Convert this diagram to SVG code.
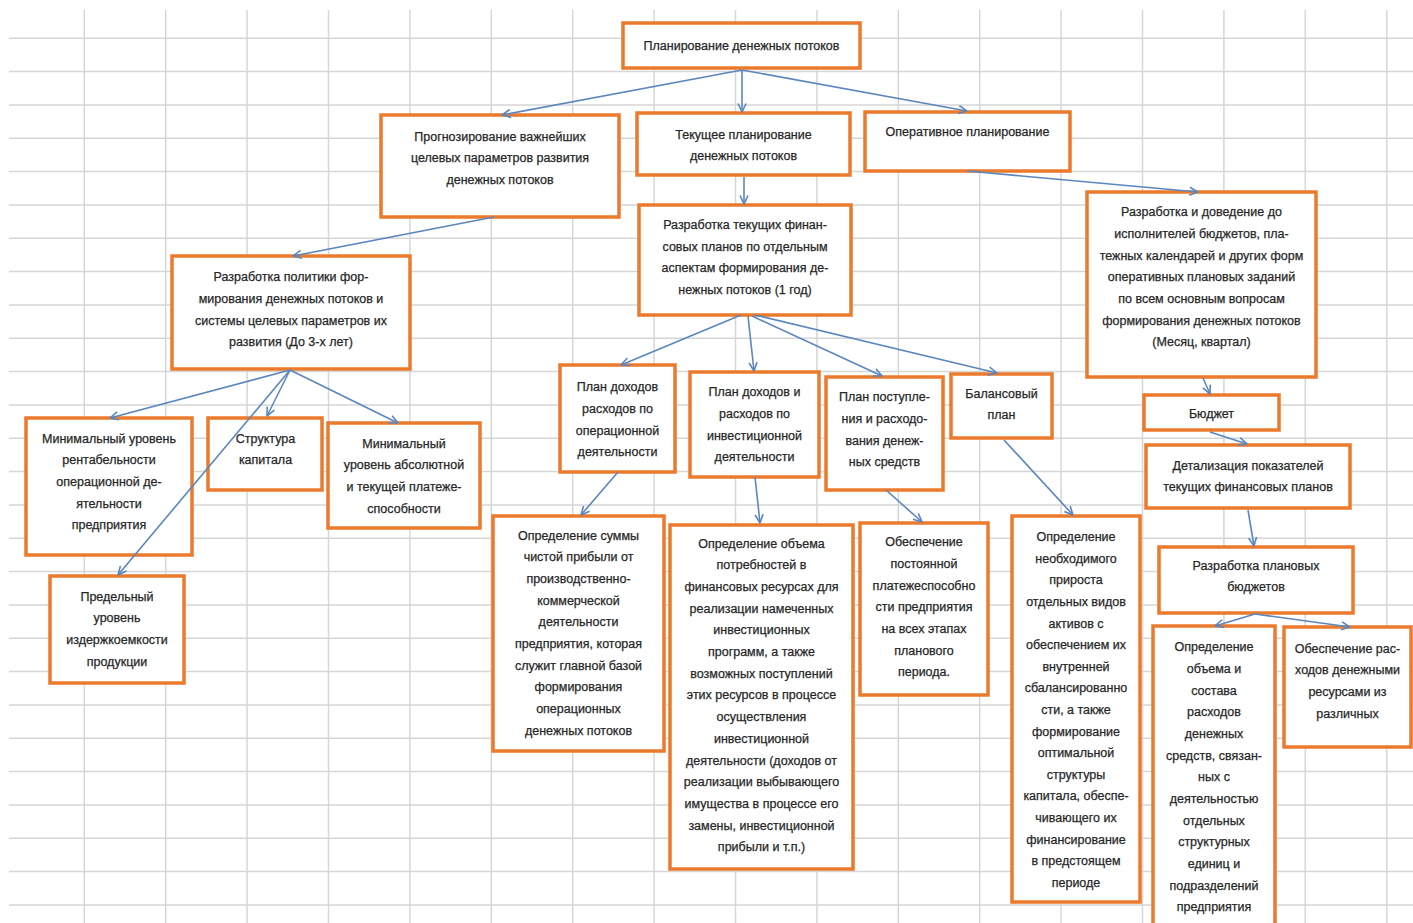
<svg xmlns="http://www.w3.org/2000/svg" width="1413" height="923" viewBox="0 0 1413 923">
<style>
.grid{stroke:#d6d6d6;stroke-width:1.5;fill:none}
.box{fill:#ffffff;stroke:#ec7a2c;stroke-width:3.5}
.t{font-family:"Liberation Sans",Arial,sans-serif;font-size:12.5px;fill:#262626;stroke:#262626;stroke-width:0.25;text-anchor:middle}
.c{stroke:#5b86be;stroke-width:1.6;fill:none;marker-end:url(#arr)}
</style>
<defs>
<marker id="arr" markerUnits="userSpaceOnUse" viewBox="0 0 10 10" refX="9.5" refY="5" markerWidth="10" markerHeight="10" orient="auto">
<path d="M1,1 L9.5,5 L1,9" fill="none" stroke="#5b86be" stroke-width="1.6"/>
</marker>
</defs>
<rect width="1413" height="923" fill="#ffffff"/>
<g id="grid">
<path class="grid" d="M9 38.3H1413M9 71.6H1413M9 105H1413M9 138.3H1413M9 171.6H1413M9 205H1413M9 238.3H1413M9 271.6H1413M9 305H1413M9 338.3H1413M9 371.6H1413M9 405H1413M9 438.3H1413M9 471.6H1413M9 505H1413M9 538.3H1413M9 571.6H1413M9 605H1413M9 638.3H1413M9 671.6H1413M9 705H1413M9 738.3H1413M9 771.6H1413M9 805H1413M9 838.3H1413M9 871.6H1413M9 905H1413"/>
<path class="grid" d="M84.3 10V923M165.7 10V923M247.1 10V923M328.5 10V923M409.9 10V923M491.3 10V923M572.7 10V923M654.1 10V923M735.5 10V923M816.9 10V923M898.3 10V923M979.7 10V923M1061.1 10V923M1142.5 10V923M1223.9 10V923M1305.3 10V923M1386.7 10V923"/>
</g>
<g id="n1"><rect class="box" x="623" y="23" width="237" height="45"/>
<text class="t" x="741.5" y="50">Планирование денежных потоков</text></g>
<g id="n2"><rect class="box" x="381" y="115" width="238" height="102"/>
<text class="t" x="500" y="140.5">Прогнозирование важнейших<tspan x="500" dy="21.67">целевых параметров развития</tspan><tspan x="500" dy="21.67">денежных потоков</tspan></text></g>
<g id="n3"><rect class="box" x="637" y="113" width="213" height="62"/>
<text class="t" x="743.5" y="138.5">Текущее планирование<tspan x="743.5" dy="21.67">денежных потоков</tspan></text></g>
<g id="n4"><rect class="box" x="865" y="112" width="205" height="59"/>
<text class="t" x="967.5" y="136.2">Оперативное планирование</text></g>
<g id="n5"><rect class="box" x="639" y="205" width="212" height="110"/>
<text class="t" x="745" y="229">Разработка текущих финан-<tspan x="745" dy="21.67">совых планов по отдельным</tspan><tspan x="745" dy="21.67">аспектам формирования де-</tspan><tspan x="745" dy="21.67">нежных потоков (1 год)</tspan></text></g>
<g id="n6"><rect class="box" x="1087" y="192" width="229" height="185"/>
<text class="t" x="1201.5" y="216.2">Разработка и доведение до<tspan x="1201.5" dy="21.67">исполнителей бюджетов, пла-</tspan><tspan x="1201.5" dy="21.67">тежных календарей и других форм</tspan><tspan x="1201.5" dy="21.67">оперативных плановых заданий</tspan><tspan x="1201.5" dy="21.67">по всем основным вопросам</tspan><tspan x="1201.5" dy="21.67">формирования денежных потоков</tspan><tspan x="1201.5" dy="21.67">(Месяц, квартал)</tspan></text></g>
<g id="n7"><rect class="box" x="172" y="256" width="238" height="113"/>
<text class="t" x="291" y="281.2">Разработка политики фор-<tspan x="291" dy="21.67">мирования денежных потоков и</tspan><tspan x="291" dy="21.67">системы целевых параметров их</tspan><tspan x="291" dy="21.67">развития (До 3-х лет)</tspan></text></g>
<g id="n8"><rect class="box" x="26" y="418" width="166" height="137"/>
<text class="t" x="109" y="442.8">Минимальный уровень<tspan x="109" dy="21.67">рентабельности</tspan><tspan x="109" dy="21.67">операционной де-</tspan><tspan x="109" dy="21.67">ятельности</tspan><tspan x="109" dy="21.67">предприятия</tspan></text></g>
<g id="n9"><rect class="box" x="208" y="418" width="114" height="72"/>
<text class="t" x="265.5" y="442.8">Структура<tspan x="265.5" dy="21.67">капитала</tspan></text></g>
<g id="n10"><rect class="box" x="328" y="423" width="152" height="105"/>
<text class="t" x="404" y="447.8">Минимальный<tspan x="404" dy="21.67">уровень абсолютной</tspan><tspan x="404" dy="21.67">и текущей платеже-</tspan><tspan x="404" dy="21.67">способности</tspan></text></g>
<g id="n11"><rect class="box" x="50" y="576" width="134" height="107"/>
<text class="t" x="117" y="600.5">Предельный<tspan x="117" dy="21.67">уровень</tspan><tspan x="117" dy="21.67">издержкоемкости</tspan><tspan x="117" dy="21.67">продукции</tspan></text></g>
<g id="n12"><rect class="box" x="560" y="365" width="115" height="107"/>
<text class="t" x="617.5" y="391.2">План доходов<tspan x="617.5" dy="21.67">расходов по</tspan><tspan x="617.5" dy="21.67">операционной</tspan><tspan x="617.5" dy="21.67">деятельности</tspan></text></g>
<g id="n13"><rect class="box" x="690" y="372" width="129" height="105"/>
<text class="t" x="754.5" y="396.2">План доходов и<tspan x="754.5" dy="21.67">расходов по</tspan><tspan x="754.5" dy="21.67">инвестиционной</tspan><tspan x="754.5" dy="21.67">деятельности</tspan></text></g>
<g id="n14"><rect class="box" x="826" y="377" width="117" height="113"/>
<text class="t" x="884.5" y="401.2">План поступле-<tspan x="884.5" dy="21.67">ния и расходо-</tspan><tspan x="884.5" dy="21.67">вания денеж-</tspan><tspan x="884.5" dy="21.67">ных средств</tspan></text></g>
<g id="n15"><rect class="box" x="951" y="374" width="101" height="64"/>
<text class="t" x="1001.5" y="397.8">Балансовый<tspan x="1001.5" dy="21.67">план</tspan></text></g>
<g id="n16"><rect class="box" x="493" y="516" width="171" height="235"/>
<text class="t" x="578.5" y="539.5">Определение суммы<tspan x="578.5" dy="21.67">чистой прибыли от</tspan><tspan x="578.5" dy="21.67">производственно-</tspan><tspan x="578.5" dy="21.67">коммерческой</tspan><tspan x="578.5" dy="21.67">деятельности</tspan><tspan x="578.5" dy="21.67">предприятия, которая</tspan><tspan x="578.5" dy="21.67">служит главной базой</tspan><tspan x="578.5" dy="21.67">формирования</tspan><tspan x="578.5" dy="21.67">операционных</tspan><tspan x="578.5" dy="21.67">денежных потоков</tspan></text></g>
<g id="n17"><rect class="box" x="670" y="525" width="183" height="344"/>
<text class="t" x="761.5" y="547.8">Определение объема<tspan x="761.5" dy="21.67">потребностей в</tspan><tspan x="761.5" dy="21.67">финансовых ресурсах для</tspan><tspan x="761.5" dy="21.67">реализации намеченных</tspan><tspan x="761.5" dy="21.67">инвестиционных</tspan><tspan x="761.5" dy="21.67">программ, а также</tspan><tspan x="761.5" dy="21.67">возможных поступлений</tspan><tspan x="761.5" dy="21.67">этих ресурсов в процессе</tspan><tspan x="761.5" dy="21.67">осуществления</tspan><tspan x="761.5" dy="21.67">инвестиционной</tspan><tspan x="761.5" dy="21.67">деятельности (доходов от</tspan><tspan x="761.5" dy="21.67">реализации выбывающего</tspan><tspan x="761.5" dy="21.67">имущества в процессе его</tspan><tspan x="761.5" dy="21.67">замены, инвестиционной</tspan><tspan x="761.5" dy="21.67">прибыли и т.п.)</tspan></text></g>
<g id="n18"><rect class="box" x="860" y="523" width="128" height="172"/>
<text class="t" x="924" y="546.2">Обеспечение<tspan x="924" dy="21.67">постоянной</tspan><tspan x="924" dy="21.67">платежеспособно</tspan><tspan x="924" dy="21.67">сти предприятия</tspan><tspan x="924" dy="21.67">на всех этапах</tspan><tspan x="924" dy="21.67">планового</tspan><tspan x="924" dy="21.67">периода.</tspan></text></g>
<g id="n19"><rect class="box" x="1012" y="516" width="128" height="386"/>
<text class="t" x="1076" y="541.2">Определение<tspan x="1076" dy="21.6">необходимого</tspan><tspan x="1076" dy="21.6">прироста</tspan><tspan x="1076" dy="21.6">отдельных видов</tspan><tspan x="1076" dy="21.6">активов с</tspan><tspan x="1076" dy="21.6">обеспечением их</tspan><tspan x="1076" dy="21.6">внутренней</tspan><tspan x="1076" dy="21.6">сбалансированно</tspan><tspan x="1076" dy="21.6">сти, а также</tspan><tspan x="1076" dy="21.6">формирование</tspan><tspan x="1076" dy="21.6">оптимальной</tspan><tspan x="1076" dy="21.6">структуры</tspan><tspan x="1076" dy="21.6">капитала, обеспе-</tspan><tspan x="1076" dy="21.6">чивающего их</tspan><tspan x="1076" dy="21.6">финансирование</tspan><tspan x="1076" dy="21.6">в предстоящем</tspan><tspan x="1076" dy="21.6">периоде</tspan></text></g>
<g id="n20"><rect class="box" x="1144" y="395" width="135" height="35"/>
<text class="t" x="1211.5" y="418">Бюджет</text></g>
<g id="n21"><rect class="box" x="1146" y="445" width="204" height="63"/>
<text class="t" x="1248" y="469.5">Детализация показателей<tspan x="1248" dy="21.67">текущих финансовых планов</tspan></text></g>
<g id="n22"><rect class="box" x="1159" y="547" width="194" height="66"/>
<text class="t" x="1256" y="569.5">Разработка плановых<tspan x="1256" dy="21.67">бюджетов</tspan></text></g>
<g id="n23"><rect class="box" x="1153" y="626" width="122" height="310"/>
<text class="t" x="1214" y="651.2">Определение<tspan x="1214" dy="21.67">объема и</tspan><tspan x="1214" dy="21.67">состава</tspan><tspan x="1214" dy="21.67">расходов</tspan><tspan x="1214" dy="21.67">денежных</tspan><tspan x="1214" dy="21.67">средств, связан-</tspan><tspan x="1214" dy="21.67">ных с</tspan><tspan x="1214" dy="21.67">деятельностью</tspan><tspan x="1214" dy="21.67">отдельных</tspan><tspan x="1214" dy="21.67">структурных</tspan><tspan x="1214" dy="21.67">единиц и</tspan><tspan x="1214" dy="21.67">подразделений</tspan><tspan x="1214" dy="21.67">предприятия</tspan></text></g>
<g id="n24"><rect class="box" x="1284" y="627" width="127" height="120"/>
<text class="t" x="1347.5" y="652.8">Обеспечение рас-<tspan x="1347.5" dy="21.67">ходов денежными</tspan><tspan x="1347.5" dy="21.67">ресурсами из</tspan><tspan x="1347.5" dy="21.67">различных</tspan></text></g>
<g id="connectors">
<path class="c" d="M742 70L502 115"/>
<path class="c" d="M742 70L742 112"/>
<path class="c" d="M742 70L967 111"/>
<path class="c" d="M744 177L744 204"/>
<path class="c" d="M494 217L293 256"/>
<path class="c" d="M967 171L1198 192"/>
<path class="c" d="M290 370L110 418"/>
<path class="c" d="M290 370L267 416"/>
<path class="c" d="M290 370L398 423"/>
<path class="c" d="M290 370L118 575"/>
<path class="c" d="M741 315L621 365"/>
<path class="c" d="M748 316L754 371"/>
<path class="c" d="M752 316L882 376"/>
<path class="c" d="M755 315L997 373"/>
<path class="c" d="M618 472L581 515"/>
<path class="c" d="M755 477L760 523"/>
<path class="c" d="M886 490L922 522"/>
<path class="c" d="M1004 440L1073 515"/>
<path class="c" d="M1203 378L1210 394"/>
<path class="c" d="M1210 432L1247 444"/>
<path class="c" d="M1248 510L1254 546"/>
<path class="c" d="M1255 614L1215 626"/>
<path class="c" d="M1255 614L1350 627"/>
</g>
</svg>
